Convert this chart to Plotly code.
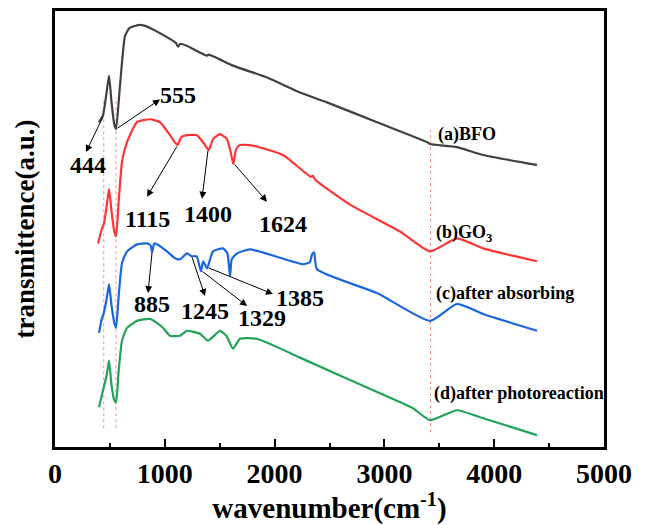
import plotly.graph_objects as go

# ---- data (y in arbitrary units, curves offset) ----
bfo_x = [400, 437, 470, 492, 515, 540, 556, 592, 638, 680, 774, 820, 865, 1000, 1100, 1120, 1140, 1200,
         1384, 1400, 1621, 1931, 2231, 2477, 2933, 3388, 3415, 3661, 3898, 4390]
bfo_y = [327, 334, 357, 374, 347, 325, 320, 364, 414, 422, 425, 424, 422, 414, 407, 403, 406, 404,
         394, 395, 384, 372, 357, 347, 327, 307, 305, 302, 294, 284]

go3_x = [392, 428, 446, 470, 492, 515, 540, 556, 580, 610, 656, 747, 865, 956, 1047, 1090, 1115, 1150,
         1202, 1293, 1360, 1400, 1440, 1503, 1566, 1600, 1624, 1650, 1685, 1776, 2077, 2330, 2350, 2370,
         2687, 3142, 3415, 3661, 3898, 4390]
go3_y = [205, 220, 225, 242, 260, 237, 217, 212, 247, 287, 307, 327, 330, 327, 314, 307, 304, 312,
         314, 314, 305, 299, 310, 315, 310, 297, 285, 300, 304, 304, 294, 272, 273, 269,
         244, 217, 197, 210, 200, 187]

abs_x = [401, 428, 437, 470, 492, 515, 540, 556, 580, 610, 656, 747, 838, 870, 885, 900, 911, 1020,
         1093, 1138, 1202, 1245, 1290, 1329, 1350, 1385, 1439, 1530, 1570, 1594, 1610, 1658, 1776,
         2259, 2320, 2341, 2360, 2386, 2933, 3415, 3661, 3898, 4390]
abs_y = [115, 130, 132, 149, 164, 142, 125, 120, 152, 185, 197, 204, 205, 203, 196, 204, 205, 197,
         190, 189, 195, 192, 192, 177, 187, 180, 197, 200, 195, 172, 189, 195, 199,
         184, 186, 194, 196, 179, 155, 127, 144, 134, 117]

photo_x = [401, 437, 470, 492, 515, 540, 556, 580, 610, 656, 747, 865, 984, 1047, 1138, 1202, 1321,
           1393, 1503, 1560, 1621, 1685, 1840, 2231, 2960, 3260, 3415, 3661, 3871, 4390]
photo_y = [40, 57, 72, 87, 62, 47, 45, 77, 107, 120, 127, 129, 120, 112, 112, 117, 114,
           107, 117, 112, 99, 109, 109, 90, 54, 39, 27, 37, 30, 12]

series_names = ["(a)BFO", "(b)GO<sub>3</sub>", "(c)after absorbing", "(d)after photoreaction"]
series_colors = ["#404040", "#ff3535", "#1a66dd", "#22a35a"]
label_pos = [(3470, 315), (3455, 215), (3455, 155), (3430, 54)]

# dashed reference lines (wavenumber, y-bottom, y-top)
ref_lines = [(444, 19, 352), (555, 19, 352), (3420, 15, 319)]

# peak annotations: label, feature (x, y), arrow head (x, y), text centre (x, y)
peaks = [
    ("444", (444, 334), (282, 297), (301, 284)),
    ("555", (556, 320), (956, 350), (1120, 354)),
    ("1115", (1118, 304), (838, 252), (838, 230)),
    ("1400", (1395, 300), (1339, 250), (1393, 235)),
    ("1624", (1624, 286), (1931, 247), (2077, 225)),
    ("885", (885, 197), (847, 155), (883, 144)),
    ("1245", (1245, 192), (1366, 152), (1366, 137)),
    ("1329", (1329, 178), (1749, 142), (1885, 130)),
    ("1385", (1385, 181), (1985, 154), (2231, 150)),
]

fig = go.Figure()

for xv, y0, y1 in ref_lines:
    fig.add_trace(go.Scatter(x=[xv, xv], y=[y0, y1], mode="lines",
                             line=dict(color="rgba(245,110,110,0.75)", width=1, dash="dot"),
                             showlegend=False, hoverinfo="skip"))

for xs, ys, c in zip([bfo_x, go3_x, abs_x, photo_x], [bfo_y, go3_y, abs_y, photo_y], series_colors):
    fig.add_trace(go.Scatter(x=xs, y=ys, mode="lines",
                             line=dict(color=c, width=2.2, shape="spline", smoothing=0.5),
                             showlegend=False))

serif = "Liberation Serif"

for name, (lx, ly) in zip(series_names, label_pos):
    fig.add_annotation(x=lx, y=ly, text=name, showarrow=False, xanchor="left", yanchor="middle",
                       font=dict(family=serif, size=18, color="black", weight="bold"))

for lab, (fx, fy), (hx, hy), (tx, ty) in peaks:
    fig.add_annotation(x=hx, y=hy, ax=fx, ay=fy, axref="x", ayref="y", xref="x", yref="y",
                       text="", showarrow=True, arrowhead=2, arrowsize=1.4, arrowwidth=1,
                       arrowcolor="black")
    fig.add_annotation(x=tx, y=ty, text=lab, showarrow=False,
                       font=dict(family=serif, size=24, color="black", weight="bold"))

fig.update_layout(
    width=645, height=525,
    margin=dict(l=55, r=41, t=8, b=78),
    plot_bgcolor="white", paper_bgcolor="white",
    xaxis=dict(range=[0, 5000], dtick=1000, tick0=0, ticks="inside", ticklen=8, tickwidth=2,
               tickcolor="black", showline=True, linewidth=2.5, linecolor="black", mirror=True,
               showgrid=False, zeroline=False,
               tickfont=dict(family=serif, size=28, color="black", weight="bold"),
               minor=dict(ticks="inside", ticklen=4, tickwidth=2, dtick=500, tickcolor="black",
                          showgrid=False),
               title=dict(text="wavenumber(cm<sup>-1</sup>)", standoff=4,
                          font=dict(family=serif, size=29, color="black", weight="bold"))),
    yaxis=dict(range=[0, 439], showticklabels=False, ticks="", showline=True, linewidth=2.5,
               linecolor="black", mirror=True, showgrid=False, zeroline=False,
               title=dict(text="transmittence(a.u.)", standoff=10,
                          font=dict(family=serif, size=27, color="black", weight="bold"))),
)

fig.write_html("out.html")
